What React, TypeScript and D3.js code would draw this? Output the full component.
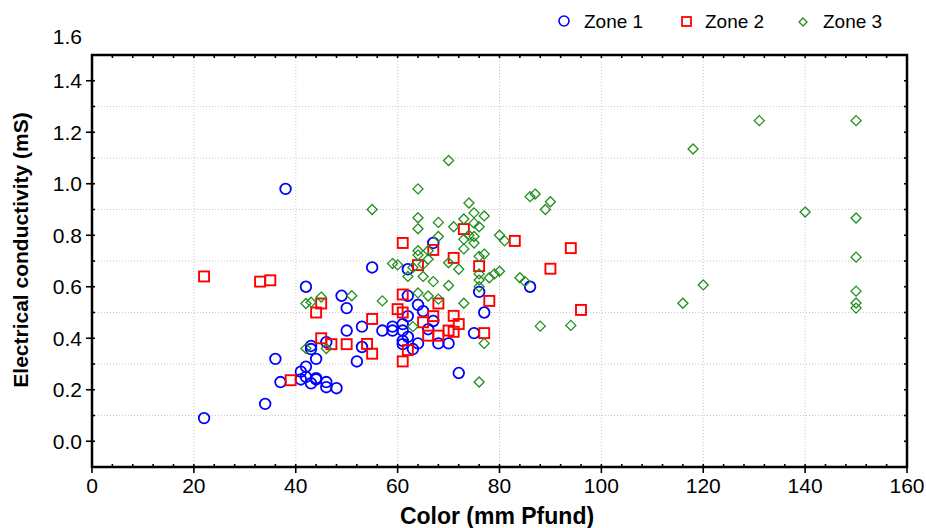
import React from "react";
import * as d3 from "d3";

type P = [number, number];

const zone1: P[] = [
  [22, 0.09], [34, 0.145], [36, 0.32], [37, 0.23], [38, 0.98], [41, 0.27], [41, 0.24],
  [42, 0.60], [42, 0.29], [42, 0.25], [43, 0.37], [43, 0.358], [43, 0.225], [44, 0.32],
  [44, 0.24], [44, 0.245], [46, 0.385], [46, 0.23], [46, 0.21], [48, 0.206], [49, 0.565],
  [50, 0.517], [50, 0.43], [52, 0.31], [53, 0.445], [53, 0.366], [55, 0.675], [57, 0.43],
  [59, 0.445], [59, 0.43], [61, 0.455], [61, 0.43], [61, 0.39], [61, 0.377], [62, 0.668],
  [62, 0.565], [62, 0.486], [62, 0.405], [63, 0.358], [64, 0.53], [64, 0.38], [65, 0.505],
  [66, 0.435], [67, 0.77], [67, 0.467], [68, 0.38], [70, 0.38], [72, 0.265], [75, 0.42],
  [76, 0.58], [77, 0.50], [86, 0.60],
];

const zone2: P[] = [
  [22, 0.64], [33, 0.62], [35, 0.625], [39, 0.237], [44, 0.50], [45, 0.535], [45, 0.40],
  [47, 0.377], [50, 0.377], [54, 0.378], [55, 0.475], [55, 0.34], [60, 0.513], [61, 0.77],
  [61, 0.57], [61, 0.50], [61, 0.31], [62, 0.354], [64, 0.684], [65, 0.462], [66, 0.41],
  [67, 0.743], [67, 0.486], [68, 0.535], [68, 0.41], [70, 0.43], [71, 0.712], [71, 0.487],
  [71, 0.425], [72, 0.455], [73, 0.824], [76, 0.68], [77, 0.42], [78, 0.545], [83, 0.778],
  [90, 0.67], [94, 0.75], [96, 0.51],
];

const zone3: P[] = [
  [42, 0.535], [43, 0.54], [45, 0.56], [42, 0.36], [46, 0.36], [51, 0.565], [55, 0.90],
  [57, 0.545], [59, 0.69], [60, 0.685], [62, 0.64], [63, 0.675], [63, 0.445], [64, 0.98],
  [64, 0.868], [64, 0.825], [64, 0.74], [64, 0.723], [64, 0.576], [65, 0.687], [65, 0.64],
  [66, 0.74], [66, 0.707], [66, 0.564], [67, 0.62], [68, 0.85], [68, 0.795], [68, 0.552],
  [70, 1.09], [70, 0.693], [70, 0.605], [71, 0.833], [72, 0.668], [73, 0.863], [73, 0.784],
  [73, 0.747], [73, 0.536], [74, 0.925], [74, 0.8], [75, 0.887], [75, 0.847], [75, 0.795],
  [75, 0.77], [76, 0.833], [76, 0.718], [76, 0.65], [76, 0.626], [76, 0.60], [76, 0.23],
  [77, 0.875], [77, 0.727], [77, 0.38], [78, 0.635], [79, 0.65], [80, 0.80], [80, 0.66],
  [81, 0.778], [84, 0.635], [85, 0.62], [86, 0.95], [87, 0.96], [88, 0.447], [89, 0.90],
  [90, 0.93], [94, 0.45], [116, 0.536], [118, 1.135], [120, 0.607], [131, 1.245],
  [140, 0.89], [150, 1.245], [150, 0.867], [150, 0.715], [150, 0.583], [150, 0.537],
  [150, 0.517],
];

const xMajorTicks = [0, 20, 40, 60, 80, 100, 120, 140, 160];
const yMajorTicks = [0, 0.2, 0.4, 0.6, 0.8, 1.0, 1.2, 1.4, 1.6];
const legendLabels = ["Zone 1", "Zone 2", "Zone 3"];

const W = 926;
const H = 528;
const L = 92, R = 907, T = 55, B = 467;

const BLUE = "#0000ff";
const RED = "#ff0000";
const GREEN = "#1f8f1f";
const FONT = "Arial, 'Liberation Sans', Helvetica, sans-serif";

function Circle({ cx, cy }: { cx: number; cy: number }) {
  return <circle cx={cx} cy={cy} r={5.3} fill="none" stroke={BLUE} strokeWidth={1.8} />;
}
function Square({ cx, cy }: { cx: number; cy: number }) {
  return <rect x={cx - 5} y={cy - 5} width={10} height={10} fill="none" stroke={RED} strokeWidth={1.9} />;
}
function Diamond({ cx, cy, s = 5 }: { cx: number; cy: number; s?: number }) {
  const d = `M${cx},${cy - s}L${cx + s},${cy}L${cx},${cy + s}L${cx - s},${cy}Z`;
  return <path d={d} fill="none" stroke={GREEN} strokeWidth={1.3} />;
}

export default function App() {
  const x = d3.scaleLinear().domain([0, 160]).range([L, R]);
  const y = d3.scaleLinear().domain([-0.1, 1.5]).range([B, T]);

  const xMinor = d3.range(0, 161, 4);
  const yMinor = d3.range(-1, 16).map((i) => +(i / 10).toFixed(1));
  const yGrid = [0.1, 0.3, 0.5, 0.7, 0.9, 1.1, 1.3];
  const xGrid = [20, 40, 60, 80, 100, 120, 140];

  return (
    <svg
      width={W}
      height={H}
      style={{ position: "absolute", left: 0, top: 0, background: "#fff" }}
      fontFamily={FONT}
    >
      <rect x={0} y={0} width={W} height={H} fill="#fff" />
      {yGrid.map((v) => (
        <line key={"gy" + v} x1={L} x2={R} y1={y(v)} y2={y(v)} stroke="#c8c8c8" strokeWidth={1} strokeDasharray="1,2" />
      ))}
      {xGrid.map((v) => (
        <line key={"gx" + v} x1={x(v)} x2={x(v)} y1={T} y2={B} stroke="#c8c8c8" strokeWidth={1} strokeDasharray="1,2" />
      ))}

      {zone1.map(([a, b], i) => <Circle key={"z1" + i} cx={x(a)} cy={y(b)} />)}
      {zone2.map(([a, b], i) => <Square key={"z2" + i} cx={x(a)} cy={y(b)} />)}
      {zone3.map(([a, b], i) => <Diamond key={"z3" + i} cx={x(a)} cy={y(b)} />)}

      {xMinor.map((v) => {
        const major = v % 20 === 0;
        return (
          <g key={"xt" + v}>
            <line x1={x(v)} x2={x(v)} y1={B - 3} y2={major ? B + 6 : B} stroke="#000" strokeWidth={1.6} />
            <line x1={x(v)} x2={x(v)} y1={T} y2={T + 3} stroke="#000" strokeWidth={1.6} />
          </g>
        );
      })}
      {yMinor.map((v) => {
        const major = Math.round(v * 10) % 2 === 0 && v >= 0;
        return (
          <g key={"yt" + v}>
            <line x1={major ? L - 6 : L} x2={L + 3} y1={y(v)} y2={y(v)} stroke="#000" strokeWidth={1.6} />
            <line x1={R - 3} x2={R} y1={y(v)} y2={y(v)} stroke="#000" strokeWidth={1.6} />
          </g>
        );
      })}

      <rect x={L} y={T} width={R - L} height={B - T} fill="none" stroke="#000" strokeWidth={2.5} />

      {xMajorTicks.map((v) => (
        <text key={"xl" + v} x={x(v)} y={493} textAnchor="middle" fontSize={21} fill="#000">
          {String(v)}
        </text>
      ))}
      {yMajorTicks.map((v) => (
        <text
          key={"yl" + v}
          x={82}
          y={Math.max(y(v), 36)}
          dy="0.36em"
          textAnchor="end"
          fontSize={21}
          fill="#000"
        >
          {v.toFixed(1)}
        </text>
      ))}

      <text x={497} y={524} textAnchor="middle" fontSize={23} fontWeight="bold" fill="#000">
        Color (mm Pfund)
      </text>
      <text
        transform={`translate(28,250) rotate(-90)`}
        textAnchor="middle"
        fontSize={21}
        fontWeight="bold"
        fill="#000"
      >
        Electrical conductivity (mS)
      </text>

      <g>
        <circle cx={564} cy={21} r={5} fill="none" stroke={BLUE} strokeWidth={1.6} />
        <text x={584} y={28} fontSize={19} fill="#000">{legendLabels[0]}</text>
        <rect x={682} y={17} width={9} height={9} fill="none" stroke={RED} strokeWidth={1.8} />
        <text x={705} y={28} fontSize={19} fill="#000">{legendLabels[1]}</text>
        <Diamond cx={803} cy={22} s={4} />
        <text x={823} y={28} fontSize={19} fill="#000">{legendLabels[2]}</text>
      </g>
    </svg>
  );
}
